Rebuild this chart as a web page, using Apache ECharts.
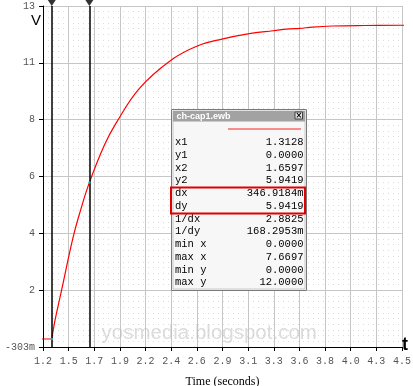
<!DOCTYPE html>
<html>
<head>
<meta charset="utf-8">
<script src="https://cdn.jsdelivr.net/npm/echarts@6/dist/echarts.min.js"></script>
<style>
html,body{margin:0;padding:0;background:#fff;}
#chart{width:413px;height:386px;}
</style>
</head>
<body>
<div id="chart"></div>
<script>
// ---- data ----
const xTickLabels = ['1.2','1.5','1.7','1.9','2.2','2.4','2.6','2.9','3.1','3.3','3.6','3.8','4.0','4.3','4.5'];
const yTickLabels = ['-303m','2','4','6','8','11','13'];
const timeS = [1.20, 1.3128, 1.34, 1.402, 1.509, 1.577, 1.6597, 1.80, 1.909, 2.124, 2.416, 2.662, 2.893, 3.123, 3.354, 3.508, 3.60, 3.72, 3.90, 4.20, 4.60];
const voltV = [0.00, 0.00, 0.65, 1.83, 3.85, 4.87, 5.9419, 7.38, 8.22, 9.53, 10.60, 11.14, 11.40, 11.59, 11.71, 11.78, 11.80, 11.85, 11.89, 11.91, 11.92];
const cursorX = [1.3128, 1.6597];
const cursorY = [0.0, 5.9419];
const infoLabels = ['x1','y1','x2','y2','dx','dy','1/dx','1/dy','min x','max x','min y','max y'];
const infoValues = ['1.3128','0.0000','1.6597','5.9419','346.9184m','5.9419','2.8825','168.2953m','0.0000','7.6697','0.0000','12.0000'];
const X_MIN = 1.232, X_MAX = 4.545;
const Y_MIN = -0.303, Y_MAX = 12.65;

const mono = '"Liberation Mono", "DejaVu Sans Mono", monospace';
const flatData = [[timeS[0], voltV[0]], [timeS[1], voltV[1]]];
const riseData = timeS.slice(1).map((t, i) => [t, voltV[i + 1]]);

// info window graphic
const boxX = 171.5, boxY = 109.5, boxW = 135, boxH = 181;
const rowY0 = 142.3, rowStep = 12.76;
const Z = 100;
const infoChildren = [
  {type:'rect', z:Z, shape:{x:boxX, y:boxY, width:boxW, height:boxH}, style:{fill:'#f7f7f7', stroke:'#7a7a7a', lineWidth:1}},
  {type:'rect', z:Z+1, shape:{x:boxX+1.5, y:boxY+1.5, width:boxW-3, height:boxH-3}, style:{fill:'none', stroke:'#c8c8c8', lineWidth:1}},
  {type:'rect', z:Z+1, shape:{x:boxX+1.5, y:boxY+1.5, width:boxW-3, height:10.5}, style:{fill:'#a2a2a2'}},
  {type:'text', z:Z+2, x:176.5, y:117, style:{text:'ch-cap1.ewb', fill:'#ffffff', font:'bold 9px "Liberation Sans", Arial, sans-serif', verticalAlign:'middle'}},
  {type:'rect', z:Z+2, shape:{x:295, y:112, width:7.5, height:7}, style:{fill:'#e6e6e6', stroke:'#404040', lineWidth:1}},
  {type:'text', z:Z+3, x:298.9, y:115.8, style:{text:'×', fill:'#000', font:'bold 8px "DejaVu Sans", sans-serif', align:'center', verticalAlign:'middle'}},
  {type:'line', z:Z+2, shape:{x1:228, y1:129, x2:301, y2:129}, style:{stroke:'#ff2020', lineWidth:1}},
  {type:'rect', z:Z+3, shape:{x:171, y:187.5, width:134, height:26}, style:{fill:'none', stroke:'#e00000', lineWidth:2}}
];
infoLabels.forEach((lab, i) => {
  const y = rowY0 + i * rowStep;
  infoChildren.push({type:'text', z:Z+2, x:175, y:y, style:{text:lab, fill:'#000', font:'10.5px ' + mono, verticalAlign:'middle'}});
  infoChildren.push({type:'text', z:Z+2, x:303.5, y:y, style:{text:infoValues[i], fill:'#000', font:'10.5px ' + mono, align:'right', verticalAlign:'middle'}});
});

const chart = echarts.init(document.getElementById('chart'), null, {renderer:'canvas'});
chart.setOption({
  animation: false,
  backgroundColor: '#ffffff',
  grid: {left: 43, right: 11, top: 6, bottom: 39, containLabel: false, outerBoundsMode: 'none'},
  xAxis: [
    {
      type: 'value', min: 0, max: xTickLabels.length - 1, interval: 1,
      name: 'Time (seconds)', nameLocation: 'middle', nameGap: 29,
      nameTextStyle: {fontFamily: '"Liberation Serif", "Times New Roman", serif', fontSize: 12, color: '#000'},
      axisLine: {show: true, lineStyle: {color: '#000', width: 1}},
      axisTick: {show: true, length: 4, lineStyle: {color: '#000'}},
      axisLabel: {margin: 9, fontFamily: mono, fontSize: 10, color: '#555', formatter: v => xTickLabels[Math.round(v)]},
      splitLine: {show: true, lineStyle: {color: '#c6c6c6', width: 1}}
    },
    {type: 'value', min: X_MIN, max: X_MAX, show: false}
  ],
  yAxis: [
    {
      type: 'value', min: 0, max: yTickLabels.length - 1, interval: 1,
      axisLine: {show: true, lineStyle: {color: '#000', width: 1}},
      axisTick: {show: true, length: 4, lineStyle: {color: '#000'}},
      axisLabel: {margin: 8, fontFamily: mono, fontSize: 10, color: '#555', formatter: v => yTickLabels[Math.round(v)]},
      splitLine: {show: true, lineStyle: {color: '#c6c6c6', width: 1}},
      minorTick: {show: false, splitNumber: 10},
      minorSplitLine: {show: true, lineStyle: {color: '#dcdcdc', width: 1, type: [1, 4]}}
    },
    {type: 'value', min: Y_MIN, max: Y_MAX, show: false}
  ],
  graphic: [
    {type:'text', x:36, y:21, z:10, style:{text:'V', fill:'#000', font:'15px "Liberation Sans", Arial, sans-serif', align:'center', verticalAlign:'middle'}},
    {type:'text', x:405, y:345, z:10, style:{text:'t', fill:'#000', font:'bold 18px "Liberation Sans", Arial, sans-serif', align:'center', verticalAlign:'middle'}},
    {type:'text', x:101.5, y:333, z:1, style:{text:'yosmedia.blogspot.com', fill:'rgba(185,185,185,0.5)', font:'20.5px "Liberation Sans", Arial, sans-serif', verticalAlign:'middle'}},
    {type:'group', z:Z, children: infoChildren}
  ],
  series: [
    {
      type: 'line', xAxisIndex: 1, yAxisIndex: 1, data: flatData,
      showSymbol: false, symbol: 'none', clip: true, z: 3,
      lineStyle: {color: '#ff0000', width: 1.2}
    },
    {
      type: 'line', xAxisIndex: 1, yAxisIndex: 1, data: riseData,
      showSymbol: false, symbol: 'none', clip: true, z: 3,
      smooth: 0.4,
      lineStyle: {color: '#ff0000', width: 1.2},
      markLine: {
        silent: true, symbol: 'none', animation: false,
        label: {show: false},
        lineStyle: {color: '#000', width: 1.5, type: 'solid'},
        data: cursorX.map(x => ({xAxis: x}))
      }
    },
    {
      type: 'scatter', xAxisIndex: 1, yAxisIndex: 1, clip: false, z: 5,
      data: cursorX.map(x => [x, Y_MAX]),
      symbol: 'triangle', symbolRotate: 180, symbolSize: [8, 6], symbolOffset: [0, -3],
      itemStyle: {color: '#000'}
    },
    {
      type: 'scatter', xAxisIndex: 1, yAxisIndex: 1, z: 6,
      data: cursorX.map((x, i) => [x, cursorY[i]]),
      symbol: 'circle', symbolSize: 2.5,
      itemStyle: {color: '#00d8e0'}
    }
  ]
});
</script>
</body>
</html>
